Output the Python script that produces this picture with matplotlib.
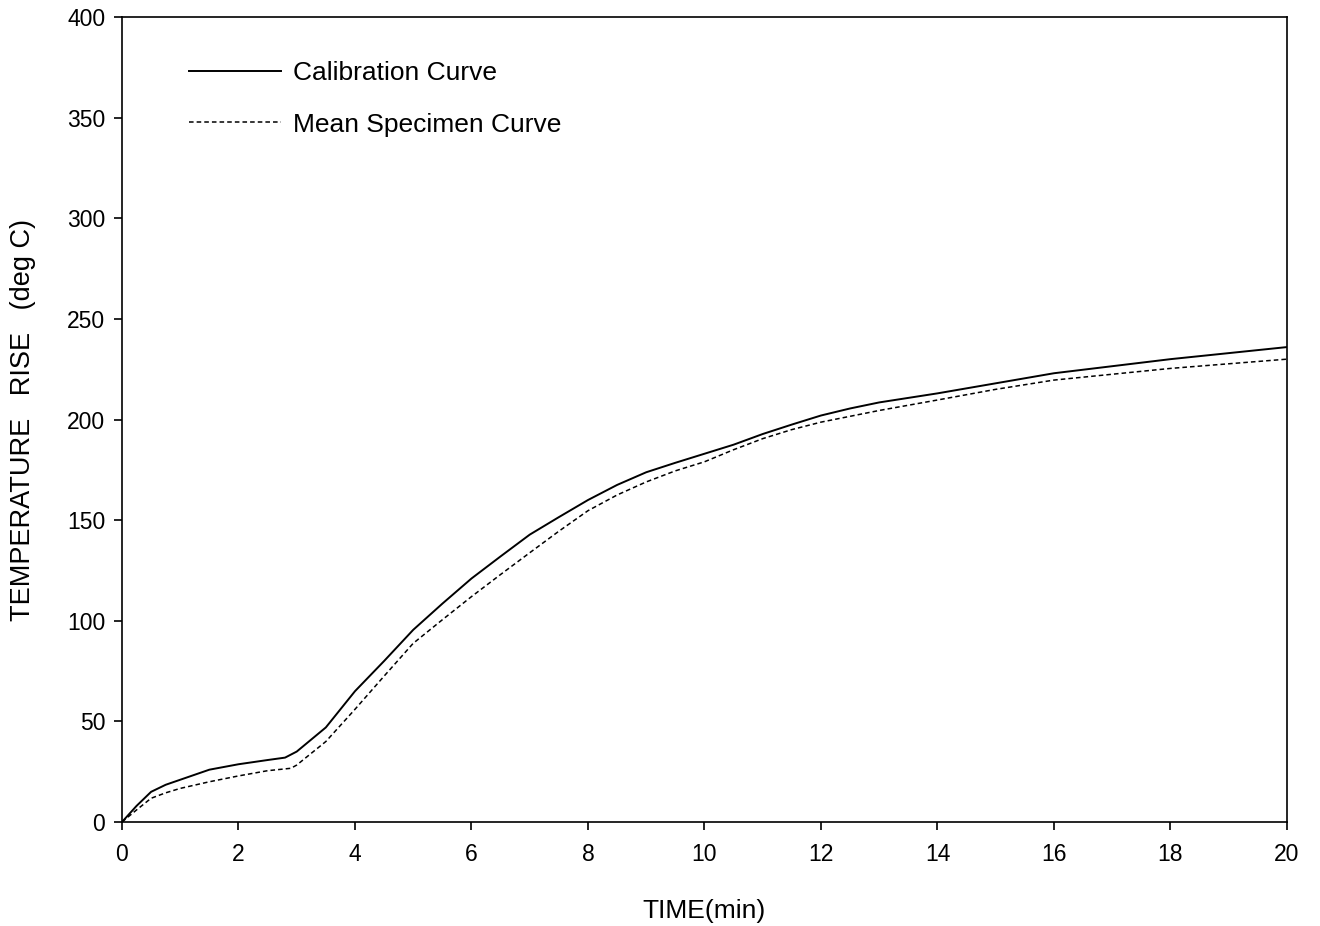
import matplotlib
matplotlib.use('Agg')
import matplotlib.pyplot as plt

plt.rcParams['font.family'] = ['Liberation Sans', 'DejaVu Sans']

time = [0, 0.25, 0.5, 0.75, 1, 1.5, 2, 2.5, 2.8, 3, 3.5, 4, 4.5, 5, 5.5, 6, 6.5, 7, 7.5, 8,
        8.5, 9, 9.5, 10, 10.5, 11, 11.5, 12, 12.5, 13, 14, 15, 16, 17, 18, 19, 20]
calibration = [0, 8, 15, 18.5, 21, 26, 28.7, 30.8, 32, 35, 47, 65, 80, 95.5, 108.5, 121, 132, 142.8, 151.5, 160,
               167.5, 173.8, 178.5, 183, 187.5, 192.8, 197.5, 202, 205.5, 208.5, 213, 218, 223, 226.5, 230, 233, 236]

time_spec = [0, 0.25, 0.5, 0.75, 1, 1.5, 2, 2.5, 2.9, 3, 3.5, 4, 4.5, 5, 5.5, 6, 6.5, 7, 7.5, 8,
             8.5, 9, 9.5, 10, 10.5, 11, 11.5, 12, 13, 14, 15, 16, 17, 18, 19, 20]
specimen = [0, 6, 11.8, 14.5, 16.7, 20, 22.9, 25.5, 26.7, 28.3, 40, 56, 72.5, 88.8, 100.5, 112, 123, 133.8, 144.5, 154.7,
            162.5, 169, 174.5, 179, 185, 190.5, 195, 198.7, 204.5, 209.7, 215, 219.6, 222.5, 225.4, 227.7, 230]

fig = plt.figure(figsize=(13.2, 9.26), dpi=100)
ax = fig.add_axes([0.0924, 0.1123, 0.8826, 0.8693])

ax.plot(time, calibration, color='black', lw=1.4, label='Calibration Curve')
ax.plot(time_spec, specimen, color='black', lw=1.1, dashes=(3, 2), label='Mean Specimen Curve')

ax.set_xlim(0, 20)
ax.set_ylim(0, 400)
ax.set_xticks(range(0, 21, 2))
ax.set_yticks(range(0, 401, 50))
ax.tick_params(direction='out', length=6, width=1.2, labelsize=16.5)
ax.tick_params(axis='x', pad=9)
ax.tick_params(axis='y', pad=6)
for s in ax.spines.values():
    s.set_linewidth(1.2)

ax.set_xlabel('TIME(min)', fontsize=19, labelpad=24)
ax.set_ylabel('TEMPERATURE   RISE   (deg C)', fontsize=19.5, labelpad=22)

ax.legend(loc='upper left', bbox_to_anchor=(0.037, 0.975), frameon=False,
          fontsize=19, handlelength=3.5, labelspacing=1.05, handletextpad=0.45)

fig.savefig('out.png', dpi=100)
